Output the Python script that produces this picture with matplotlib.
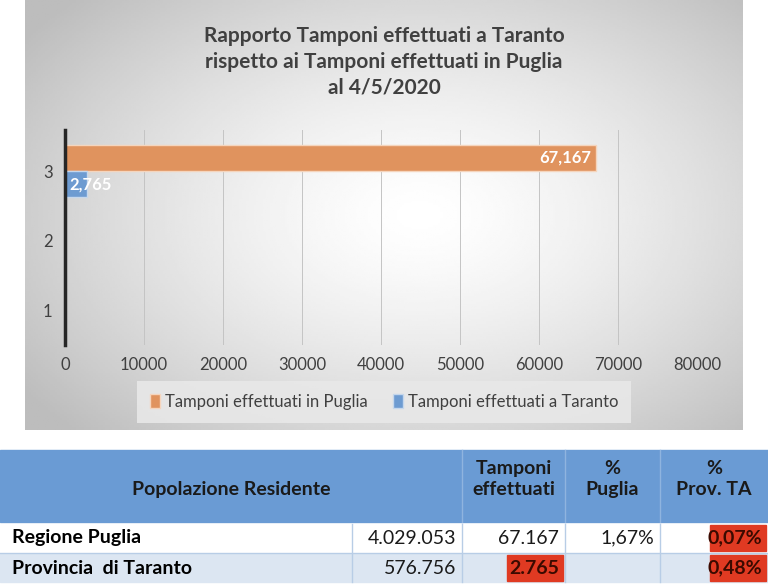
import matplotlib
matplotlib.use('agg')
import matplotlib.pyplot as plt
from matplotlib.patches import Rectangle
import numpy as np

plt.rcParams['font.family'] = 'Lato'

# ---- data
categories = [1, 2, 3]
puglia = [0, 0, 67167]
taranto = [0, 0, 2765]
series_names = ['Tamponi effettuati in Puglia', 'Tamponi effettuati a Taranto']
title = 'Rapporto Tamponi effettuati a Taranto\nrispetto ai Tamponi effettuati in Puglia\nal 4/5/2020'

header = ['Popolazione Residente', 'Tamponi\neffettuati', '%\nPuglia', '%\nProv. TA']
row_names = ['Regione Puglia', 'Provincia  di Taranto']
popolazione = ['4.029.053', '576.756']
tamponi = ['67.167', '2.765']
perc_puglia = ['1,67%', '']
perc_ta = ['0,07%', '0,48%']
highlight = [[False, False, False, True], [False, True, False, True]]

W, H = 768, 585
fig = plt.figure(figsize=(W / 100, H / 100), dpi=100)

# overlay in pixel coordinates
bg = fig.add_axes([0, 0, 1, 1])
bg.set_xlim(0, W)
bg.set_ylim(H, 0)
bg.axis('off')

# gray radial gradient panel, lighter in the middle
yy, xx = np.mgrid[0:1:200j, 0:1:300j]
r = np.sqrt(((xx - 0.55) / 0.75) ** 2 + ((yy - 0.5) / 0.8) ** 2)
shade = np.clip(1.0 - 0.3 * r ** 1.4, 0.74, 1.0)
bg.imshow(shade, cmap='gray', vmin=0, vmax=1, extent=(25, 743, 430, 0),
          aspect='auto', zorder=0)

bg.text(384, 62, title, ha='center', va='center', fontsize=15,
        fontweight='bold', color='#404040', linespacing=1.35)

# ---- bar chart
ax = fig.add_axes([65 / W, 1 - 345 / H, (697 - 65) / W, (345 - 130) / H])
ax.patch.set_alpha(0)
cat = np.array(categories, dtype=float)
h = 0.37
b1 = ax.barh(cat + 0.2, puglia, height=h, color='#e0935e', edgecolor='#f5d5bd',
             linewidth=1, label=series_names[0], zorder=3)
b2 = ax.barh(cat - 0.18, taranto, height=h, color='#6d9bd1', edgecolor='#c5d7ec',
             linewidth=1, label=series_names[1], zorder=3)
ax.text(puglia[2] - 600, cat[2] + 0.2, f'{puglia[2]:,}', ha='right', va='center',
        color='white', fontsize=12, fontweight='bold', zorder=4)
ax.text(500, cat[2] - 0.18, f'{taranto[2]:,}', ha='left', va='center',
        color='white', fontsize=12, fontweight='bold', zorder=4)
ax.set_xlim(0, 80000)
ax.set_ylim(0.5, 3.6)
ax.set_xticks(np.arange(0, 80001, 10000))
ax.set_yticks(categories)
ax.tick_params(length=0, labelsize=12, colors='#404040', pad=9)
ax.xaxis.grid(True, color='#c4c4c4', linewidth=0.7, zorder=0)
for s in ['top', 'right', 'bottom']:
    ax.spines[s].set_visible(False)
ax.spines['left'].set_linewidth(2.5)
ax.spines['left'].set_color('#262626')
ax.spines['left'].set_zorder(5)
leg = fig.legend(handles=[b1, b2], loc='center', bbox_to_anchor=(384 / W, 1 - 402 / H),
                 ncol=2, frameon=True, fontsize=12, handlelength=0.6, handleheight=0.9,
                 handletextpad=0.3, columnspacing=1.5, borderpad=0.5)
leg.get_frame().set_facecolor('#e8e8e8')
leg.get_frame().set_edgecolor('none')
leg.get_frame().set_alpha(0.9)
leg.get_frame().set_boxstyle('square', pad=0.3)
for t in leg.get_texts():
    t.set_color('#404040')

# ---- table
cols = [0, 352, 462, 565, 660, 768]
head_top, head_bot = 450, 522
rows = [(524, 552), (554, 582)]
blue = '#6a9bd4'
bg.add_patch(Rectangle((0, head_top), W, head_bot - head_top, color=blue, zorder=1))
for x in cols[2:-1]:
    bg.plot([x, x], [head_top, head_bot], color='#8fb4df', lw=1, zorder=2)
hx = [(cols[0] + cols[2]) / 2, (cols[2] + cols[3]) / 2,
      (cols[3] + cols[4]) / 2, (cols[4] + cols[5]) / 2]
for i, txt in enumerate(header):
    y = 490 if i == 0 else 479
    bg.text(hx[i], y, txt, ha='center', va='center', fontsize=14,
            fontweight='bold', color='#1a1a1a', linespacing=1.3, zorder=3)

row_colors = ['white', '#dce6f2']
for r, (top, bot) in enumerate(rows):
    bg.add_patch(Rectangle((0, top), W, bot - top, color=row_colors[r], zorder=1))
    for x in cols[1:-1]:
        bg.plot([x, x], [top, bot], color='#b8cde6', lw=1, zorder=2)
    yc = (top + bot) / 2
    bg.text(12, yc, row_names[r], ha='left', va='center', fontsize=14,
            fontweight='bold', color='black', zorder=3)
    vals = [popolazione[r], tamponi[r], perc_puglia[r], perc_ta[r]]
    for j, v in enumerate(vals):
        x_right = cols[j + 2] - 6
        if highlight[r][j] and v:
            bg.add_patch(Rectangle((x_right - 52, top + 1), 56, bot - top - 2,
                                   color='#e03a22', zorder=2))
            bg.text(x_right, yc, v, ha='right', va='center', fontsize=14,
                    fontweight='bold', color='#3a0a00', zorder=3)
        else:
            bg.text(x_right, yc, v, ha='right', va='center', fontsize=14,
                    color='#1a1a1a', zorder=3)
bg.plot([0, W], [553, 553], color='#b8cde6', lw=1, zorder=2)

fig.savefig('out.png', dpi=100)
